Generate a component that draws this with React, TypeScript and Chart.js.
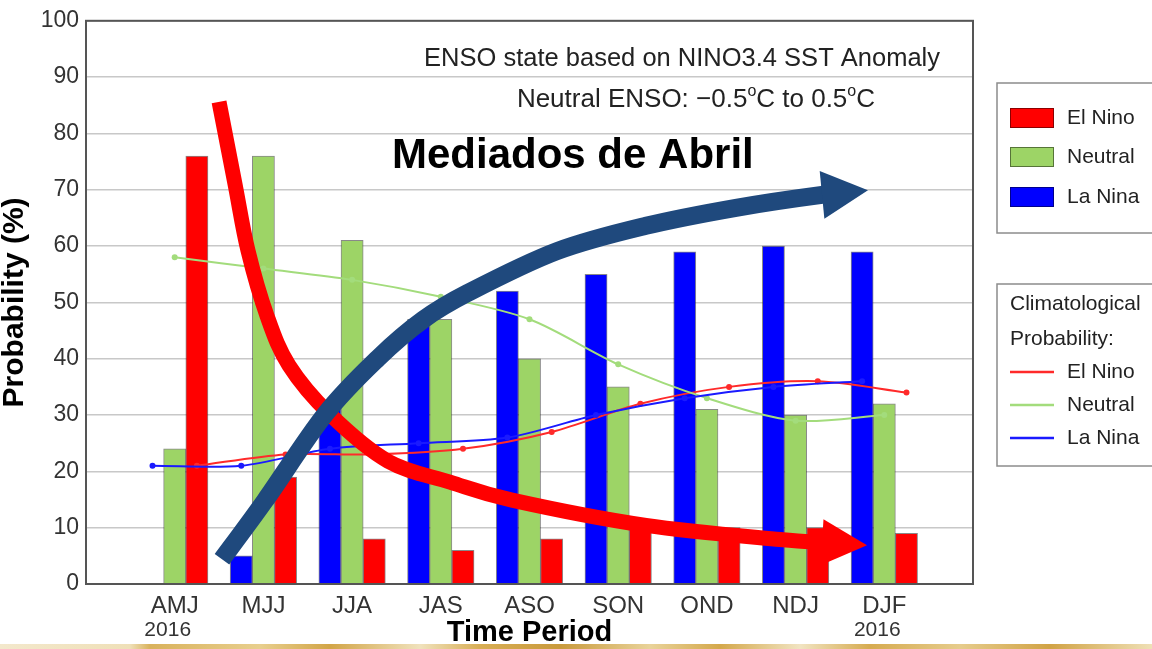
import React, { useEffect, useRef } from 'react';
import { Chart, registerables } from 'chart.js';

Chart.register(...registerables);

// ---------- data ----------
const categories = ['AMJ', 'MJJ', 'JJA', 'JAS', 'ASO', 'SON', 'OND', 'NDJ', 'DJF'];
const yearLabels = ['2016', '', '', '', '', '', '', '', '2016'];
const elNino = [76, 19, 8, 6, 8, 10, 10, 10, 9];
const neutral = [24, 76, 61, 47, 40, 35, 31, 30, 32];
const laNina = [0, 5, 31, 47, 52, 55, 59, 60, 59];
const climElNino = [21, 23, 23, 24, 27, 32, 35, 36, 34];
const climNeutral = [58, 56, 54, 51, 47, 39, 33, 29, 30];
const climLaNina = [21, 21, 24, 25, 26, 30, 33, 35, 36];
// hand-drawn arrows, in chart units (x: category slot, y: probability); last point = tip
const redArrowX = [1.5, 1.68, 1.826, 2.041, 2.289, 2.751, 3.405, 4.104, 4.803, 6.313, 7.824, 8.298, 8.805];
const redArrowY = [85.6, 71.0, 59.2, 47.6, 38.8, 30.1, 21.8, 18.1, 14.9, 10.4, 7.9, 7.4, 6.9];
const blueArrowX = [1.533, 2.018, 2.694, 3.292, 3.799, 4.307, 5.31, 6.313, 7.328, 8.298, 8.816];
const blueArrowY = [4.4, 14.8, 30.1, 40.1, 46.9, 51.7, 59.1, 63.6, 66.8, 69.1, 69.9];

const FONT = "'Liberation Sans', Arial, Helvetica, sans-serif";
const RED = '#ff0000';
const GREEN = '#9dd466';
const BLUE = '#0000ff';
const LRED = '#ff2a2a';
const LGREEN = '#a3dc7c';
const LBLUE = '#1a1aff';
const ARROW_BLUE = '#1f497d';

type P = { x: number; y: number };

function drawArrow(ctx: CanvasRenderingContext2D, pts: P[], color: string, lw: number, headHalf: number) {
  const tip = pts[pts.length - 1];
  const body = pts.slice(0, -1);
  const n = body.length;
  const get = (i: number) => (i < 0 ? body[0] : i >= n ? tip : body[i]);
  ctx.save();
  ctx.strokeStyle = color;
  ctx.fillStyle = color;
  ctx.lineWidth = lw;
  ctx.lineCap = 'butt';
  ctx.lineJoin = 'round';
  ctx.beginPath();
  ctx.moveTo(body[0].x, body[0].y);
  for (let i = 0; i < n - 1; i++) {
    const p0 = get(i - 1), p1 = get(i), p2 = get(i + 1), p3 = get(i + 2);
    const c1 = { x: p1.x + (p2.x - p0.x) / 6, y: p1.y + (p2.y - p0.y) / 6 };
    const c2 = { x: p2.x - (p3.x - p1.x) / 6, y: p2.y - (p3.y - p1.y) / 6 };
    ctx.bezierCurveTo(c1.x, c1.y, c2.x, c2.y, p2.x, p2.y);
  }
  const b = body[n - 1];
  const dx = tip.x - b.x, dy = tip.y - b.y;
  const len = Math.hypot(dx, dy);
  const ux = dx / len, uy = dy / len;
  ctx.lineTo(b.x + ux * 3, b.y + uy * 3);
  ctx.stroke();
  ctx.beginPath();
  ctx.moveTo(b.x - uy * headHalf, b.y + ux * headHalf);
  ctx.lineTo(tip.x, tip.y);
  ctx.lineTo(b.x + uy * headHalf, b.y - ux * headHalf);
  ctx.closePath();
  ctx.fill();
  ctx.restore();
}

export default function App() {
  const ref = useRef<HTMLCanvasElement>(null);

  useEffect(() => {
    const canvas = ref.current;
    if (!canvas) return;
    const labels = ['', ...categories, ''];
    const yearRow = ['', ...yearLabels, ''];
    const groupWidth = 0.75; // share of a category taken by the three bars
    const slot = groupWidth / 3;
    const toXY = (arr: number[], off: number) => arr.map((v, i) => ({ x: i + 1 + off, y: v }));

    const decor = {
      id: 'decor',
      beforeDatasetsDraw(chart: any) {
        const { ctx, chartArea: ca, scales } = chart;
        const y = scales.y;
        ctx.save();
        ctx.textBaseline = 'middle';
        ctx.fillStyle = '#222';
        ctx.font = `25.5px ${FONT}`;
        ctx.textAlign = 'right';
        ctx.fillText('ENSO state based on NINO3.4 SST Anomaly', ca.right - 33, y.getPixelForValue(93.3));

        const runs = [
          { t: 'Neutral ENSO: \u22120.5', s: false },
          { t: 'o', s: true },
          { t: 'C to 0.5', s: false },
          { t: 'o', s: true },
          { t: 'C', s: false },
        ];
        const mainF = `26px ${FONT}`;
        const supF = `16px ${FONT}`;
        let total = 0;
        for (const r of runs) {
          ctx.font = r.s ? supF : mainF;
          total += ctx.measureText(r.t).width;
        }
        let xx = ca.right - 98 - total;
        const yy = y.getPixelForValue(85.9);
        ctx.textAlign = 'left';
        for (const r of runs) {
          ctx.font = r.s ? supF : mainF;
          ctx.fillText(r.t, xx, r.s ? yy - 9 : yy);
          xx += ctx.measureText(r.t).width;
        }

        ctx.fillStyle = '#000';
        ctx.font = `bold 42px ${FONT}`;
        ctx.fillText('Mediados de Abril', ca.left + 306, y.getPixelForValue(75.9));
        ctx.restore();
      },
      afterDatasetsDraw(chart: any) {
        const { ctx, chartArea: ca, scales } = chart;
        const xs = scales.xl;
        const y = scales.y;
        ctx.save();
        ctx.strokeStyle = '#555';
        ctx.lineWidth = 2;
        ctx.strokeRect(ca.left, ca.top, ca.right - ca.left, ca.bottom - ca.top);
        ctx.restore();

        const toPts = (ax: number[], ay: number[]) =>
          ax.map((v, i) => ({ x: xs.getPixelForValue(v), y: y.getPixelForValue(ay[i]) }));
        drawArrow(ctx, toPts(redArrowX, redArrowY), RED, 15, 23);
        drawArrow(ctx, toPts(blueArrowX, blueArrowY), ARROW_BLUE, 18, 24);

        // legends
        ctx.save();
        ctx.font = `21px ${FONT}`;
        ctx.textBaseline = 'middle';
        ctx.textAlign = 'left';
        const bx = ca.right + 24;
        const b1y = 83;
        ctx.strokeStyle = '#8c8c8c';
        ctx.lineWidth = 1.5;
        ctx.strokeRect(bx, b1y, 220, 150);
        const sw = [
          { c: RED, t: 'El Nino', dy: 35 },
          { c: GREEN, t: 'Neutral', dy: 74 },
          { c: BLUE, t: 'La Nina', dy: 114 },
        ];
        for (const s of sw) {
          ctx.fillStyle = s.c;
          ctx.fillRect(bx + 13, b1y + s.dy - 10, 44, 20);
          ctx.strokeStyle = 'rgba(0,0,0,0.45)';
          ctx.lineWidth = 1;
          ctx.strokeRect(bx + 13.5, b1y + s.dy - 9.5, 43, 19);
          ctx.fillStyle = '#222';
          ctx.fillText(s.t, bx + 70, b1y + s.dy);
        }
        const b2y = 284;
        ctx.strokeStyle = '#8c8c8c';
        ctx.lineWidth = 1.5;
        ctx.strokeRect(bx, b2y, 220, 182);
        ctx.fillStyle = '#222';
        ctx.fillText('Climatological', bx + 13, b2y + 20);
        ctx.fillText('Probability:', bx + 13, b2y + 55);
        const ln = [
          { c: LRED, t: 'El Nino', dy: 88 },
          { c: LGREEN, t: 'Neutral', dy: 121 },
          { c: LBLUE, t: 'La Nina', dy: 154 },
        ];
        for (const l of ln) {
          ctx.strokeStyle = l.c;
          ctx.lineWidth = 2.5;
          ctx.beginPath();
          ctx.moveTo(bx + 13, b2y + l.dy);
          ctx.lineTo(bx + 57, b2y + l.dy);
          ctx.stroke();
          ctx.fillStyle = '#222';
          ctx.fillText(l.t, bx + 70, b2y + l.dy);
        }
        ctx.restore();
      },
    };

    const barCommon = {
      type: 'bar' as const,
      xAxisID: 'xl',
      yAxisID: 'y',
      grouped: false,
      borderWidth: 1,
      borderColor: 'rgba(40,40,40,0.55)',
      categoryPercentage: 1,
      barPercentage: 1,
      order: 1,
    };
    const lineCommon = {
      type: 'line' as const,
      xAxisID: 'xl',
      yAxisID: 'y',
      borderWidth: 2,
      pointRadius: 3,
      pointBorderWidth: 0,
      tension: 0.3,
      fill: false,
      order: 0,
    };

    const chart = new Chart(canvas, {
      type: 'bar',
      data: {
        labels,
        datasets: [
          { ...barCommon, label: 'La Nina', data: toXY(laNina, -slot), backgroundColor: BLUE },
          { ...barCommon, label: 'Neutral', data: toXY(neutral, 0), backgroundColor: GREEN },
          { ...barCommon, label: 'El Nino', data: toXY(elNino, slot), backgroundColor: RED },
          { ...lineCommon, label: 'Clim La Nina', data: toXY(climLaNina, -slot), borderColor: LBLUE, pointBackgroundColor: LBLUE },
          { ...lineCommon, label: 'Clim Neutral', data: toXY(climNeutral, 0), borderColor: LGREEN, pointBackgroundColor: LGREEN },
          { ...lineCommon, label: 'Clim El Nino', data: toXY(climElNino, slot), borderColor: LRED, pointBackgroundColor: LRED },
        ] as any,
      },
      options: {
        animation: false,
        responsive: false,
        devicePixelRatio: 1,
        layout: { padding: { left: 0, right: 179, top: 15, bottom: 0 } },
        plugins: { legend: { display: false }, tooltip: { enabled: false } },
        scales: {
          x: {
            type: 'category',
            labels,
            offset: false,
            position: 'bottom',
            weight: 0,
            grid: { display: false, drawTicks: false },
            border: { display: false },
            ticks: { autoSkip: false, maxRotation: 0, padding: 8, color: '#333', font: { family: FONT, size: 24, lineHeight: 1.2 } },
            afterFit: (s: any) => { s.height = 36; },
          },
          x2: {
            type: 'category',
            labels: yearRow,
            offset: false,
            position: 'bottom',
            weight: 1,
            grid: { display: false, drawTicks: false },
            border: { display: false },
            ticks: { autoSkip: false, maxRotation: 0, padding: 0, labelOffset: -7, color: '#333', font: { family: FONT, size: 21, lineHeight: 1 } },
            title: { display: true, text: 'Time Period', color: '#000', font: { family: FONT, size: 29, weight: 'bold', lineHeight: 1 }, padding: { top: 0, bottom: 2 } },
            afterFit: (s: any) => { s.height = 29; },
          },
          xl: { type: 'linear', display: false, offset: false, min: 0, max: 10 },
          y: {
            min: 0,
            max: 100,
            stacked: false,
            ticks: { stepSize: 10, padding: 7, color: '#333', font: { family: FONT, size: 23 } },
            grid: { color: '#c8c8c8', lineWidth: 1.5, drawTicks: false },
            border: { display: false },
            title: { display: true, text: 'Probability (%)', color: '#000', font: { family: FONT, size: 30, weight: 'bold', lineHeight: 1 }, padding: 0 },
            afterFit: (s: any) => { s.width = 86; },
          },
        } as any,
      },
      plugins: [decor],
    });
    return () => chart.destroy();
  }, []);

  return (
    <div style={{ position: 'absolute', left: 0, top: 0, width: 1152, height: 649, background: '#fff', overflow: 'hidden' }}>
      <canvas ref={ref} width={1152} height={649} style={{ display: 'block', width: 1152, height: 649 }} />
      <div
        style={{
          position: 'absolute',
          left: 0,
          top: 644,
          width: 1152,
          height: 5,
          background:
            'linear-gradient(90deg, #f3e8cc 0px, #efe0b8 130px, #d9b25c 150px, #e8cf8e 260px, #d2a547 330px, #f0e2bd 420px, #d8ae55 480px, #c99a3c 560px, #e9d39a 650px, #d4a84b 720px, #f1e4c2 800px, #d6ab50 870px, #e6cc8c 960px, #d1a345 1050px, #efe0b6 1152px)',
        }}
      />
    </div>
  );
}
